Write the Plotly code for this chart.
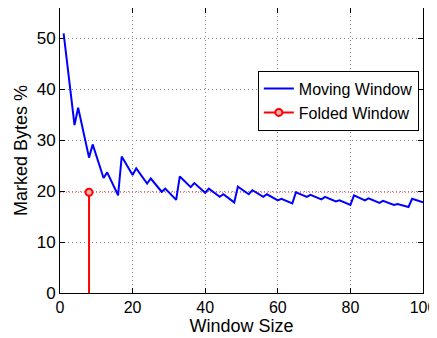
import plotly.graph_objects as go

window_size = list(range(1, 101))
moving_window = [
    51.0, 44.8, 38.6, 33.0, 36.4, 33.0, 29.7, 26.6, 29.2, 26.9,
    24.7, 22.6, 23.7, 22.1, 20.6, 19.2, 26.8, 25.6, 24.4, 23.2,
    24.5, 23.5, 22.5, 21.5, 22.5, 21.6, 20.8, 19.9, 20.5, 19.7,
    19.0, 18.3, 22.9, 22.2, 21.5, 20.8, 21.6, 21.0, 20.3, 19.7,
    20.5, 20.0, 19.4, 18.9, 19.4, 18.9, 18.3, 17.8, 20.9, 20.4,
    19.9, 19.4, 20.2, 19.8, 19.3, 18.9, 19.4, 19.0, 18.6, 18.2,
    18.5, 18.2, 17.9, 17.6, 19.8, 19.5, 19.2, 18.9, 19.3, 19.0,
    18.7, 18.4, 18.9, 18.6, 18.3, 18.0, 18.2, 17.9, 17.6, 17.3,
    19.2, 18.9, 18.5, 18.2, 18.6, 18.3, 18.0, 17.7, 18.1, 17.8,
    17.6, 17.3, 17.5, 17.3, 17.1, 16.9, 18.5, 18.3, 18.0, 17.8,
]
folded_x = [8]
folded_y = [19.8]

x_ticks = [0, 20, 40, 60, 80, 100]
y_ticks = [0, 10, 20, 30, 40, 50]

FONT = "Liberation Sans, Arial, Helvetica, sans-serif"

fig = go.Figure()
fig.add_hline(y=folded_y[0], line=dict(color="rgba(255,0,0,0.5)", width=1.5, dash="1px,2px"), layer="below")
fig.add_trace(go.Scatter(x=window_size, y=moving_window, mode="lines",
                         line=dict(color="#0000ff", width=2), name="Moving Window"))
fig.add_trace(go.Scatter(x=[folded_x[0], folded_x[0]], y=[0, folded_y[0]], mode="lines",
                         line=dict(color="#ff0000", width=2), showlegend=False, hoverinfo="skip"))
fig.add_trace(go.Scatter(x=folded_x, y=folded_y, mode="lines+markers",
                         line=dict(color="#ff0000", width=2),
                         marker=dict(symbol="circle", size=7, color="#ffb0b0",
                                     line=dict(color="#ff0000", width=2)),
                         name="Folded Window"))

axis_common = dict(showline=True, linecolor="black", linewidth=1, mirror="ticks",
                   ticks="inside", ticklen=5, tickcolor="black", automargin=False,
                   ticklabeloverflow="allow",
                   showgrid=True, gridcolor="#888888", griddash="1px,3px", gridwidth=1,
                   zeroline=False)

fig.update_xaxes(range=[0, 100], tickvals=x_ticks,
                 tickfont=dict(size=16, color="black", family=FONT),
                 title=dict(text="Window Size", font=dict(size=18, color="black", family=FONT), standoff=2),
                 **axis_common)
fig.update_yaxes(range=[0, 56], tickvals=y_ticks,
                 tickfont=dict(size=17, color="black", family=FONT),
                 title=dict(text="Marked Bytes %", font=dict(size=18, color="black", family=FONT), standoff=4),
                 **axis_common)

# page body has an 8px default margin, so the figure is offset by 8px
fig.update_layout(
    width=437, height=338,
    margin=dict(l=52, r=22, t=0, b=53),
    plot_bgcolor="white", paper_bgcolor="white",
    font=dict(family=FONT, color="black"),
    legend=dict(x=0.545, y=0.78, xanchor="left", yanchor="top",
                bgcolor="white", bordercolor="black", borderwidth=1,
                font=dict(size=16, family=FONT, color="black"),
                tracegroupgap=0, itemwidth=30),
)

fig.write_html("out.html")
